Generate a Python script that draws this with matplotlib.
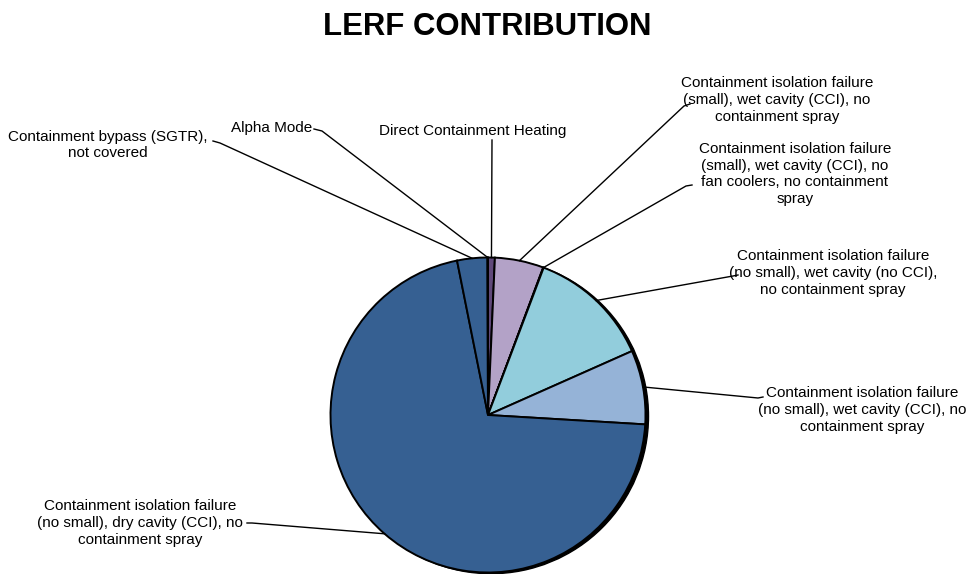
import numpy as np
import matplotlib
matplotlib.use("Agg")
import matplotlib.pyplot as plt
from matplotlib.patches import Circle

plt.rcParams['font.family'] = ['Liberation Sans', 'DejaVu Sans']

labels = [
    "Direct Containment Heating",
    "Containment isolation failure\n(small), wet cavity (CCI), no\ncontainment spray",
    "Containment isolation failure\n(small), wet cavity (CCI), no\nfan coolers, no containment\nspray",
    "Containment isolation failure\n(no small), wet cavity (no CCI),\nno containment spray",
    "Containment isolation failure\n(no small), wet cavity (CCI), no\ncontainment spray",
    "Containment isolation failure\n(no small), dry cavity (CCI), no\ncontainment spray",
    "Containment bypass (SGTR),\nnot covered",
    "Alpha Mode",
]
values = [0.7, 5.0, 0.05, 12.6, 7.6, 70.9, 3.1, 0.05]
colors = ["#60497A", "#B3A2C7", "#7F6FA0", "#92CDDC", "#95B3D7", "#366092", "#366092", "#4F6228"]

W, H = 969, 574
fig = plt.figure(figsize=(W / 100, H / 100), dpi=100)
ax = fig.add_axes([0, 0, 1, 1])

cx, cy, r = 488, H - 415, 157.5

# shadow rim
ax.add_patch(Circle((cx + 3.0, cy - 1.2), r, color='black', zorder=0))

wedges, _ = ax.pie(values, colors=colors, startangle=90, counterclock=False,
                   center=(cx, cy), radius=r, frame=True,
                   wedgeprops=dict(edgecolor='black', linewidth=1.4))
for w in wedges:
    w.set_zorder(1)
ax.set_xlim(0, W)
ax.set_ylim(0, H)
ax.set_aspect('equal')
ax.axis('off')

# label positions (text center x, center y in pixels from top)
label_pos = [
    (473, 131),
    (777, 100),
    (795, 174),
    (833, 273),
    (862, 410),
    (140, 523),
    (108, 145),
    (272, 128),
]
elbows = [
    (492, 140),
    (684, 106),
    (686, 186),
    (733, 276),
    (758, 398),
    (252, 523),
    (220, 143),
    (322, 131),
]
text_ends = [
    (492, 140),
    (690, 104),
    (692, 185),
    (738, 275),
    (763, 397),
    (247, 523),
    (213, 141),
    (314, 129),
]

fs = 11
for w, lab, (tx, ty), (ex, ey), (sx, sy) in zip(wedges, labels, label_pos, elbows, text_ends):
    mid = np.deg2rad((w.theta1 + w.theta2) / 2)
    px = cx + r * np.cos(mid)
    py = cy + r * np.sin(mid)
    ax.text(tx, H - ty, lab, ha='center', va='center', fontsize=fs,
            linespacing=1.25, color='black')
    ax.plot([px, ex, sx], [py, H - ey, H - sy], color='black', lw=1.0, zorder=3)

ax.text(487, H - 27, "LERF CONTRIBUTION", ha='center', va='center',
        fontsize=22.4, fontweight='bold', color='black')

fig.savefig("out.png", dpi=100)
